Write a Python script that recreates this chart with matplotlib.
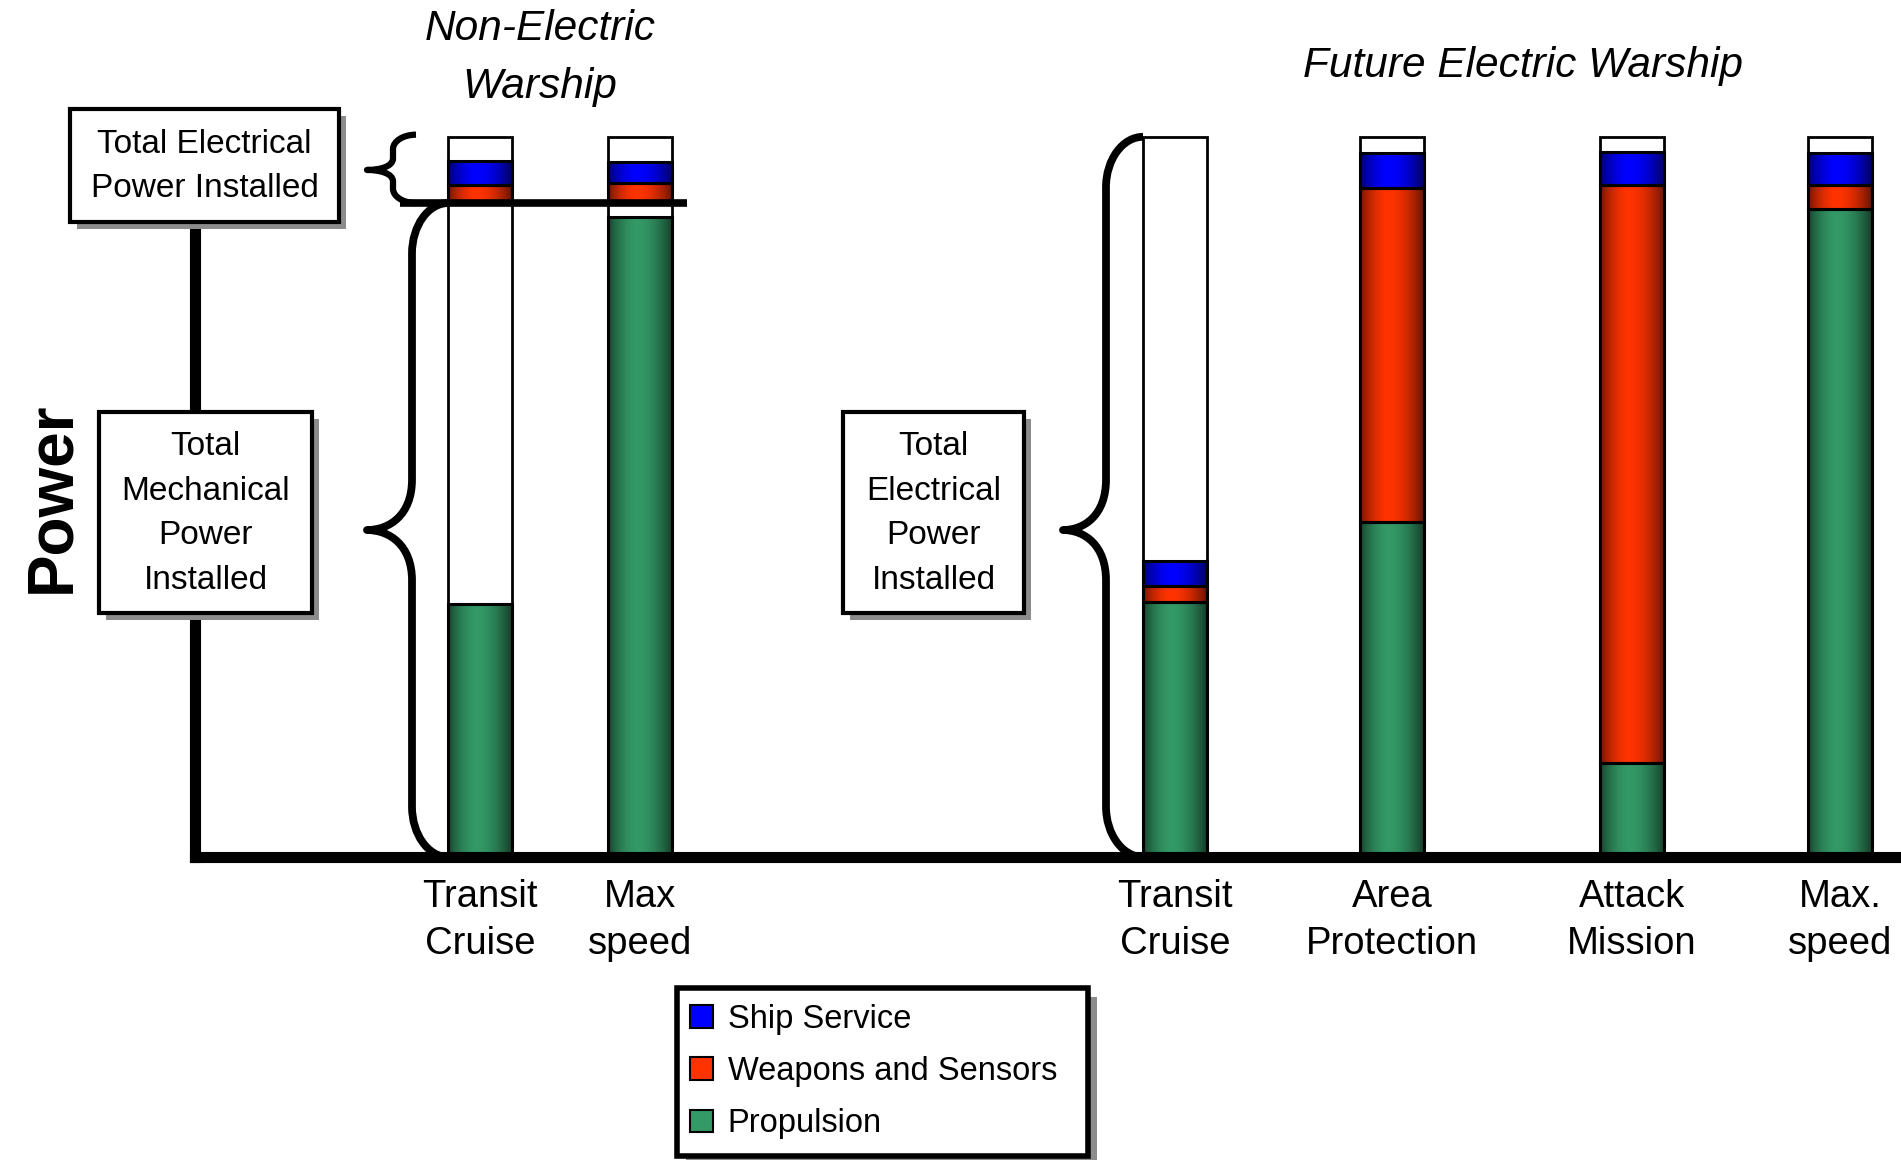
import numpy as np
import matplotlib
matplotlib.use('Agg')
import matplotlib.pyplot as plt
from matplotlib.patches import Rectangle, Patch, PathPatch
from matplotlib.path import Path

plt.rcParams['font.family'] = ['Liberation Sans Narrow', 'Liberation Sans', 'DejaVu Sans']

# data (power, % of total installed)
categories = ['Transit\nCruise', 'Max\nspeed', 'Transit\nCruise', 'Area\nProtection',
              'Attack\nMission', 'Max.\nspeed']
propulsion = [35.1, 88.9, 35.4, 46.5, 13.1, 90.0]
weapons = [2.5, 2.8, 2.2, 46.4, 80.2, 3.3]
ship_service = [3.4, 2.9, 3.5, 4.9, 4.6, 4.5]
mech_installed = [90.8, 90.8, 0, 0, 0, 0]
total_installed = [100, 100, 100, 100, 100, 100]
series = ['Ship Service', 'Weapons and Sensors', 'Propulsion']
colors = {'Ship Service': (0.0, 0.0, 1.0),
          'Weapons and Sensors': (1.0, 0.2, 0.0),
          'Propulsion': (0.2, 0.6, 0.4)}

W, H = 1901, 1160
base_px = 857
fig = plt.figure(figsize=(W / 100, H / 100), dpi=100)
ax = fig.add_axes([195 / W, (H - base_px) / H, 1 - 195 / W, base_px / H])
xpos = np.array([2.85, 4.45, 9.80, 11.97, 14.37, 16.45])
bw = 0.64


def fx(px):
    return px / W


def fy(py):
    return 1 - py / H


# horizontal shading across a bar
t = np.linspace(0, 1, 90)
shade = np.where(t < 0.45, 1 - 0.55 * ((0.45 - t) / 0.45) ** 1.8,
                 1 - 0.6 * ((t - 0.45) / 0.55) ** 1.8)


def grad_seg(x, y0, y1, rgb):
    img = np.array(rgb)[None, None, :] * shade[None, :, None]
    ax.imshow(img, extent=[x - bw / 2, x + bw / 2, y0, y1], aspect='auto',
              interpolation='bilinear', zorder=2)
    ax.add_patch(Rectangle((x - bw / 2, y0), bw, y1 - y0, fill=False,
                           ec='black', lw=2.2, zorder=3))


for i, x in enumerate(xpos):
    ax.add_patch(Rectangle((x - bw / 2, 0), bw, total_installed[i], fc='white',
                           ec='black', lw=2, zorder=1))
    grad_seg(x, 0, propulsion[i], colors['Propulsion'])
    base = max(mech_installed[i], propulsion[i])
    grad_seg(x, base, base + weapons[i], colors['Weapons and Sensors'])
    base += weapons[i]
    grad_seg(x, base, base + ship_service[i], colors['Ship Service'])

# mechanical/electrical split line for the non-electric ship
ax.plot([xpos[0] - 0.8, xpos[1] + 0.47], [mech_installed[0]] * 2, color='black',
        lw=5.5, solid_capstyle='butt', zorder=5)


def brace(x_end, x_v, x_tip, y0, y1, y_tip, ry, tip_dy, lw):
    k = 0.55
    rx = x_end - x_v
    dx = x_v - x_tip
    verts = [(x_end, y1),
             (x_end - k * rx, y1), (x_v, y1 - ry + k * ry), (x_v, y1 - ry),
             (x_v, y_tip + tip_dy),
             (x_v, y_tip + 0.3 * tip_dy), (x_tip + 0.5 * dx, y_tip), (x_tip, y_tip),
             (x_tip + 0.5 * dx, y_tip), (x_v, y_tip - 0.3 * tip_dy), (x_v, y_tip - tip_dy),
             (x_v, y0 + ry),
             (x_v, y0 + ry - k * ry), (x_end - k * rx, y0), (x_end, y0)]
    codes = [Path.MOVETO] + [Path.CURVE4] * 3 + [Path.LINETO] + [Path.CURVE4] * 6 + \
            [Path.LINETO] + [Path.CURVE4] * 3
    ax.add_patch(PathPatch(Path(verts, codes), fill=False, ec='black', lw=lw,
                           capstyle='butt', joinstyle='round', zorder=4))


brace(xpos[0] - bw / 2, 2.17, 1.72, 0, mech_installed[0], 45.4, 7.0, 7.0, 5.6)
brace(xpos[0] - bw / 2 - 0.32, 1.98, 1.72, mech_installed[0], total_installed[0] + 0.3,
      95.4, 2.0, 1.6, 4.5)
brace(xpos[2] - bw / 2, 9.11, 8.68, 0, total_installed[2], 45.4, 7.0, 7.0, 5.6)

ax.set_xlim(0, 17.06)
ax.set_ylim(0, 119.0)
ax.set_facecolor('none')
for s in ['top', 'right']:
    ax.spines[s].set_visible(False)
ax.spines['left'].set_bounds(0, 90)
ax.spines['left'].set_linewidth(8)
ax.spines['bottom'].set_linewidth(8)
ax.spines['left'].set_capstyle('projecting')
ax.set_yticks([])
ax.set_xticks(xpos, categories, fontsize=27.5)
ax.tick_params(axis='x', length=0, pad=16)
for lbl in ax.get_xticklabels():
    lbl.set_linespacing(1.37)


def shadow_box(x0, y0, x1, y1, lw=3, off=7):
    fig.patches.append(Rectangle((fx(x0 + off), fy(y1 + off)), (x1 - x0) / W, (y1 - y0) / H,
                                 transform=fig.transFigure, fc='#8c8c8c', ec='none', zorder=1))
    fig.patches.append(Rectangle((fx(x0), fy(y1)), (x1 - x0) / W, (y1 - y0) / H,
                                 transform=fig.transFigure, fc='white', ec='black', lw=lw,
                                 zorder=1.5))


def label_box(x0, y0, x1, y1, text):
    shadow_box(x0, y0, x1, y1)
    fig.text(fx((x0 + x1) / 2), fy((y0 + y1) / 2 + 1), text, ha='center', va='center',
             fontsize=24, linespacing=1.57, zorder=3)


label_box(70, 109, 339, 222, 'Total Electrical\nPower Installed')
label_box(99, 412, 312, 613, 'Total\nMechanical\nPower\nInstalled')
label_box(843, 412, 1024, 613, 'Total\nElectrical\nPower\nInstalled')

fig.text(fx(540), fy(58), 'Non-Electric\nWarship', style='italic', fontsize=30.5,
         ha='center', va='center', linespacing=1.6)
fig.text(fx(1523), fy(66), 'Future Electric Warship', style='italic', fontsize=30.5,
         ha='center', va='center')
fig.text(fx(52), fy(497), 'Power', rotation=90, fontsize=46, fontweight='bold',
         ha='center', va='center')

# legend with its own framed box and drop shadow
shadow_box(677, 988, 1088, 1156, lw=4, off=9)
handles = [Patch(fc=colors[s], ec='black', lw=1.5) for s in series]
leg = fig.legend(handles, series, loc='upper left', bbox_to_anchor=(fx(677), fy(991)),
                 frameon=False, fontsize=23.5, handlelength=0.7, handleheight=0.7,
                 handletextpad=0.45, labelspacing=0.65, borderpad=0.4, borderaxespad=0)

fig.savefig('out.png', dpi=100)
